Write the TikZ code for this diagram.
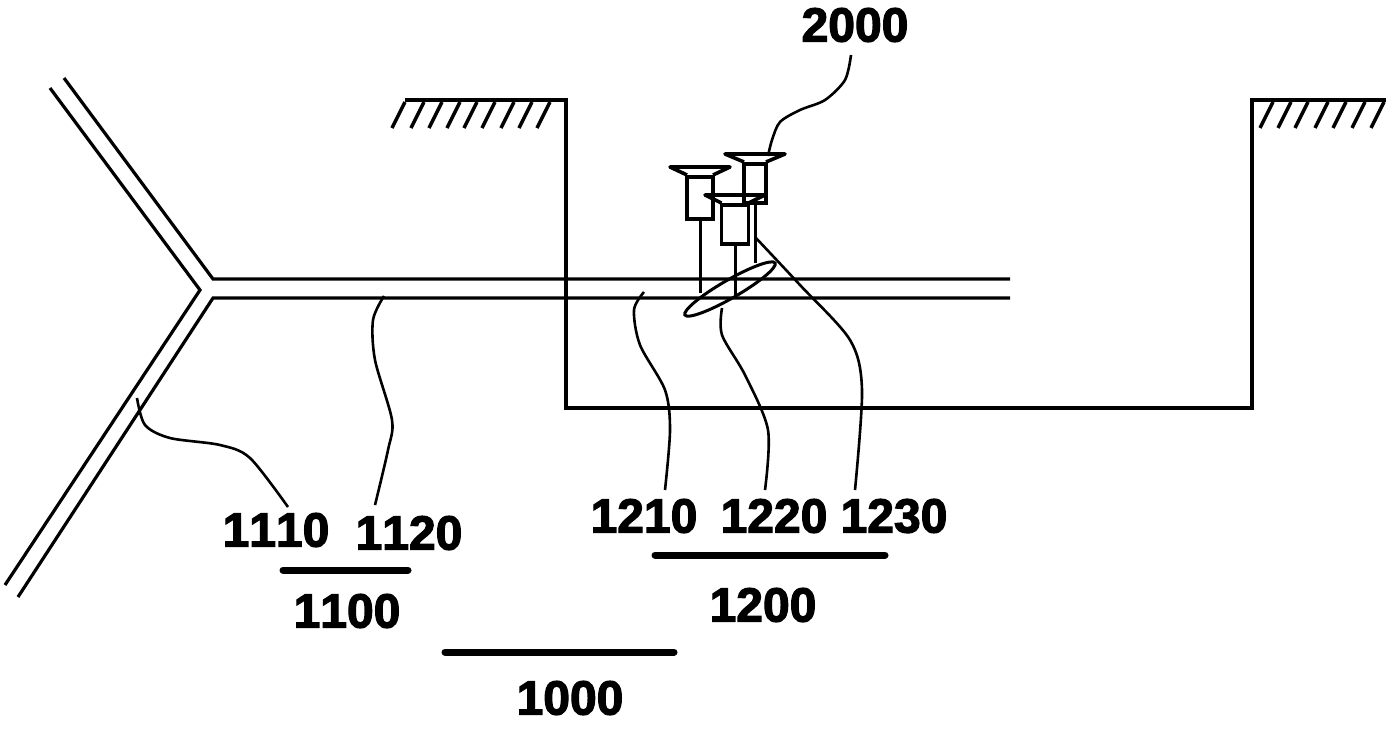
\documentclass[tikz,border=0pt]{standalone}
\usepackage{fontspec}
\newfontfamily\numfont[FakeBold=2.5,Kerning=Off]{Liberation Sans Bold}
\usetikzlibrary{shapes.geometric}
\tikzset{
    wall/.style={line width=3.2pt},
    hatch/.style={line width=3.4pt},
    leader/.style={line width=2.6pt},
    underbar/.style={line width=7pt, line cap=round},
    numlabel/.style={inner sep=0pt, font=\numfont\fontsize{48}{48}\selectfont},
    nailbody/.style={draw, line width=3.6pt, inner sep=0pt, anchor=north, minimum width=#1},
}

\begin{document}
\begin{tikzpicture}[x=1pt, y=-1pt]
    \useasboundingbox (0,0) rectangle (1391,729);

    % Nodes
    \node[numlabel] (n2000) at (855,25) {2000};
    \node[numlabel] (n1110) at (276,530) {1110};
    \node[numlabel] (n1120) at (409,533) {1120};
    \node[numlabel] (n1210) at (644,516) {1210};
    \node[numlabel] (n1220) at (774,516) {1220};
    \node[numlabel] (n1230) at (894,516) {1230};
    \node[numlabel] (n1100) at (347,611) {1100};
    \node[numlabel] (n1200) at (763,605) {1200};
    \node[numlabel] (n1000) at (570,698) {1000};
    \node[draw, ellipse, line width=3pt, rotate=30, inner sep=0pt,
        minimum width=104pt, minimum height=18pt] (ring) at (730,289) {};

    % Support with its ground hatching
    \draw[wall] (405,100) -- (566,100) -- (566,408) -- (1252,408) -- (1252,100) -- (1386,100);
    \foreach \x in {405,424,442,460,477,495,514,532,550}
        \draw[hatch] (\x,102) -- (\x-13,128);
    \foreach \x in {1273,1291,1308,1328,1346,1365,1384}
        \draw[hatch] (\x,102) -- (\x-13,128);

    % Y-shaped double line
    \draw[wall] (64,78) -- (213,279) -- (1010,279);
    \draw[wall] (18,597) -- (213,298) -- (1010,298);
    \draw[wall] (50,88) -- (200,290) -- (5,585);

    % Nails
    \foreach \name/\x/\y/\w/\h/\e in {
        a/700/167/26/42/293,
        b/735/195/27/39/297,
        c/755/154/22/39/263}{
        \node[nailbody=\w pt, minimum height=\h pt] (body\name) at (\x,\y+8) {};
        \draw[line width=3.6pt, line join=round] (\x-\w/2,\y+8) -- (\x-30,\y) -- (\x+30,\y) -- (\x+\w/2,\y+8);
        \coordinate (tip\name) at (\x,\e);
        \draw[line width=3pt] (body\name.south) -- (tip\name);
    }

    % Edges
    \coordinate (p2000) at (768,156);
    \coordinate (p1110) at (137,398);
    \coordinate (p1120) at (384,296);
    \coordinate (p1210) at (644,292);
    \coordinate (p1220) at (722,308);
    \coordinate (p1230) at (755,237);
    \draw[leader] plot[smooth] coordinates {(851,55) (845,80) (825,100) (800,110) (780,122) (772,140) (p2000)};
    \draw[leader] plot[smooth] coordinates {(p1110) (145,425) (170,438) (220,445) (250,458) (288,507)};
    \draw[leader] plot[smooth] coordinates {(p1120) (373,320) (375,360) (392,420) (388,450) (375,505)};
    \draw[leader] plot[smooth] coordinates {(p1210) (634,310) (640,345) (665,390) (670,430) (665,490)};
    \draw[leader] plot[smooth] coordinates {(p1220) (722,335) (745,375) (768,430) (765,490)};
    \draw[leader] plot[smooth] coordinates {(p1230) (800,285) (850,340) (862,390) (855,490)};

    % Grouping bars
    \coordinate (b1100a) at (283,570);
    \coordinate (b1100b) at (408,570);
    \coordinate (b1200a) at (655,555);
    \coordinate (b1200b) at (885,555);
    \coordinate (b1000a) at (445,652);
    \coordinate (b1000b) at (674,652);
    \draw[underbar] (b1100a) -- (b1100b);
    \draw[underbar] (b1200a) -- (b1200b);
    \draw[underbar] (b1000a) -- (b1000b);
\end{tikzpicture}
\end{document}
